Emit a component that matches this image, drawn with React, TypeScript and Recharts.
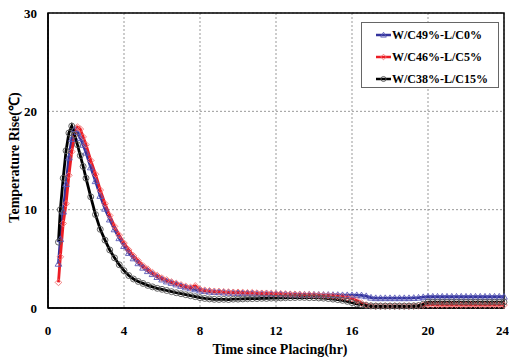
import React from 'react';
import {
  LineChart, Line, XAxis, YAxis, CartesianGrid, ReferenceArea, Legend, Label,
} from 'recharts';

// hours since placing
const hours = [
  0.55, 0.65, 0.8, 0.95, 1.1, 1.25, 1.4, 1.55, 1.7, 1.85,
  2, 2.25, 2.5, 2.75, 3, 3.25, 3.5, 3.75,
  4, 4.25, 4.5, 4.75, 5, 5.25, 5.5, 5.75,
  6, 6.25, 6.5, 6.75, 7, 7.25, 7.5, 7.75,
  8, 8.25, 8.5, 8.75, 9, 9.25, 9.5, 9.75,
  10, 10.25, 10.5, 10.75, 11, 11.25, 11.5, 11.75,
  12, 12.25, 12.5, 12.75, 13, 13.25, 13.5, 13.75,
  14, 14.25, 14.5, 14.75, 15, 15.25, 15.5, 15.75,
  16, 16.25, 16.5, 16.75, 17, 17.25, 17.5, 17.75,
  18, 18.25, 18.5, 18.75, 19, 19.25, 19.5, 19.75,
  20, 20.25, 20.5, 20.75, 21, 21.25, 21.5, 21.75,
  22, 22.25, 22.5, 22.75, 23, 23.25, 23.5, 23.75,
  24,
];

// W/C49%-L/C0%
const lc0 = [
  4.5, 7.0, 9.8, 12.6, 15.3, 17.2, 18.2, 17.9, 17.3, 16.6,
  15.8, 14.3, 12.9, 11.4, 10.1, 9.0, 8.0, 7.1,
  6.3, 5.6, 5.05, 4.55, 4.1, 3.75, 3.45, 3.15,
  2.9, 2.7, 2.55, 2.4, 2.25, 2.1, 2.0, 1.9,
  1.78, 1.72, 1.66, 1.62, 1.6, 1.58, 1.55, 1.55,
  1.52, 1.5, 1.5, 1.48, 1.46, 1.45, 1.45, 1.42,
  1.42, 1.4, 1.4, 1.38, 1.38, 1.36, 1.36, 1.35,
  1.35, 1.34, 1.33, 1.33, 1.32, 1.32, 1.3, 1.3,
  1.3, 1.3, 1.28, 1.2, 1.05, 1.0, 1.0, 1.0,
  1.0, 1.0, 1.0, 1.0, 1.0, 1.02, 1.05, 1.1,
  1.15, 1.15, 1.15, 1.15, 1.15, 1.15, 1.15, 1.15,
  1.15, 1.15, 1.15, 1.15, 1.15, 1.15, 1.15, 1.15,
  1.15,
];

// W/C46%-L/C5%
const lc5 = [
  2.6, 5.2, 8.6, 10.6, 13.5, 15.9, 17.6, 18.4, 18.2, 17.4,
  16.6, 15.0, 13.6, 12.0, 10.6, 9.4, 8.3, 7.4,
  6.6, 5.9, 5.3, 4.8, 4.3, 3.95, 3.6, 3.3,
  3.05, 2.85, 2.65, 2.5, 2.35, 2.2, 2.1, 2.25,
  1.9, 1.8, 1.75, 1.7, 1.68, 1.65, 1.62, 1.6,
  1.6, 1.58, 1.55, 1.56, 1.52, 1.5, 1.5, 1.48,
  1.45, 1.45, 1.42, 1.4, 1.4, 1.38, 1.35, 1.35,
  1.32, 1.3, 1.28, 1.25, 1.22, 1.18, 1.12, 1.05,
  0.95, 0.75, 0.5, 0.32, 0.22, 0.2, 0.2, 0.2,
  0.2, 0.2, 0.2, 0.2, 0.2, 0.2, 0.22, 0.28,
  0.32, 0.32, 0.3, 0.32, 0.3, 0.32, 0.3, 0.3,
  0.3, 0.32, 0.3, 0.3, 0.3, 0.32, 0.3, 0.3,
  0.3,
];

// W/C38%-L/C15%
const lc15 = [
  6.7, 10.0, 13.2, 16.0, 17.8, 18.5, 17.6, 16.6, 15.5, 14.4,
  13.2, 11.3, 9.5, 8.0, 6.9, 5.9, 5.1, 4.4,
  3.8, 3.3, 2.95, 2.7, 2.5, 2.3, 2.15, 2.0,
  1.9, 1.78, 1.66, 1.55, 1.45, 1.35, 1.25, 1.15,
  1.05, 0.97, 0.92, 0.88, 0.87, 0.88, 0.86, 0.9,
  0.9, 0.92, 0.94, 0.95, 0.96, 0.98, 0.97, 1.0,
  1.0, 1.02, 1.04, 1.05, 1.06, 1.08, 1.07, 1.05,
  1.05, 1.02, 1.0, 0.96, 0.9, 0.85, 0.78, 0.68,
  0.55, 0.42, 0.32, 0.25, 0.22, 0.2, 0.2, 0.2,
  0.2, 0.2, 0.2, 0.2, 0.2, 0.22, 0.25, 0.4,
  0.6, 0.6, 0.6, 0.6, 0.6, 0.6, 0.6, 0.6,
  0.6, 0.6, 0.6, 0.6, 0.6, 0.6, 0.6, 0.6,
  0.6,
];

const xTicks = [0, 4, 8, 12, 16, 20, 24];
const yTicks = [0, 10, 20, 30];

const data = hours.map((t, i) => ({ t, lc0: lc0[i], lc5: lc5[i], lc15: lc15[i] }));

const FONT = '"Liberation Serif", "Times New Roman", serif';

const series = [
  { key: 'lc0', name: 'W/C49%-L/C0%', color: '#33339c', mark: '#5b5bb8', shape: 'triangle' },
  { key: 'lc5', name: 'W/C46%-L/C5%', color: '#ec1c24', mark: '#f07070', shape: 'diamond' },
  { key: 'lc15', name: 'W/C38%-L/C15%', color: '#000000', mark: '#555555', shape: 'circle' },
];

function Marker({ cx, cy, shape, color, size = 3.3 }: any) {
  if (cx == null || cy == null) return null;
  if (shape === 'triangle') {
    const pts = `${cx},${cy - size} ${cx - size},${cy + size * 0.75} ${cx + size},${cy + size * 0.75}`;
    return <polygon points={pts} fill="none" stroke={color} strokeWidth={0.9} />;
  }
  if (shape === 'diamond') {
    const pts = `${cx},${cy - size} ${cx + size},${cy} ${cx},${cy + size} ${cx - size},${cy}`;
    return <polygon points={pts} fill="none" stroke={color} strokeWidth={0.9} />;
  }
  return <circle cx={cx} cy={cy} r={size * 0.9} fill="none" stroke={color} strokeWidth={0.9} />;
}

function LegendBox() {
  return (
    <div
      style={{
        border: '1px solid #666',
        background: '#fff',
        width: 136,
        height: 64,
        boxSizing: 'content-box',
        fontFamily: FONT,
        fontWeight: 700,
        fontSize: 12,
        color: '#000',
      }}
    >
      {series.map((s, i) => (
        <div key={s.key} style={{ display: 'flex', alignItems: 'center', height: 22, marginTop: i === 0 ? 1 : 0 }}>
          <svg width={30} height={12}>
            <line x1={14} y1={6} x2={29} y2={6} stroke={s.color} strokeWidth={2.5} />
            <Marker cx={21.5} cy={6} shape={s.shape} color={s.mark} size={2.8} />
          </svg>
          <span style={{ whiteSpace: 'nowrap' }}>{s.name}</span>
        </div>
      ))}
    </div>
  );
}

function YTitle({ viewBox }: any) {
  const cx = viewBox.x + 14;
  const cy = viewBox.y + viewBox.height / 2 - 3;
  return (
    <text
      x={cx}
      y={cy}
      transform={`rotate(-90, ${cx}, ${cy})`}
      textAnchor="middle"
      dominantBaseline="central"
      fontFamily={FONT}
      fontWeight={700}
      fontSize={14}
      fill="#000"
    >
      Temperature Rise(℃)
    </text>
  );
}

function XTitle({ viewBox }: any) {
  return (
    <text
      x={viewBox.x + viewBox.width / 2 + 4}
      y={viewBox.y + 46}
      textAnchor="middle"
      fontFamily={FONT}
      fontWeight={700}
      fontSize={14}
      fill="#000"
    >
      Time since Placing(hr)
    </text>
  );
}

export default function App() {
  const tickStyle = { fill: '#000', fontSize: 13, fontWeight: 700, fontFamily: FONT };
  return (
    <div style={{ position: 'absolute', left: 0, top: 0, background: '#fff' }}>
      <LineChart width={509} height={361} data={data} margin={{ top: 13, right: 5, left: 0, bottom: 0 }}>
        <CartesianGrid stroke="#999" strokeDasharray="2 2" />
        <XAxis
          dataKey="t"
          type="number"
          domain={[0, 24]}
          ticks={xTicks}
          height={53}
          tickLine={false}
          tickMargin={12}
          axisLine={{ stroke: '#000', strokeWidth: 1.5 }}
          tick={tickStyle}
        >
          <Label content={XTitle} />
        </XAxis>
        <YAxis
          type="number"
          domain={[0, 30]}
          ticks={yTicks}
          width={48}
          tickLine={false}
          tickMargin={5}
          axisLine={{ stroke: '#000', strokeWidth: 1.5 }}
          tick={tickStyle}
        >
          <Label content={YTitle} />
        </YAxis>
        <ReferenceArea x1={0} x2={24} y1={0} y2={30} fill="none" stroke="#000" strokeWidth={1.5} />
        {series.map((s) => (
          <Line
            key={s.key}
            dataKey={s.key}
            name={s.name}
            type="linear"
            stroke={s.color}
            strokeWidth={2.8}
            isAnimationActive={false}
            dot={(p: any) => (
              <Marker key={`${s.key}-${p.index}`} cx={p.cx} cy={p.cy} shape={s.shape} color={s.mark} />
            )}
            activeDot={false}
          />
        ))}
        <Legend
          layout="vertical"
          align="center"
          verticalAlign="middle"
          content={() => <LegendBox />}
          wrapperStyle={{ left: 361, top: 22, width: 138, height: 66 }}
        />
      </LineChart>
    </div>
  );
}
